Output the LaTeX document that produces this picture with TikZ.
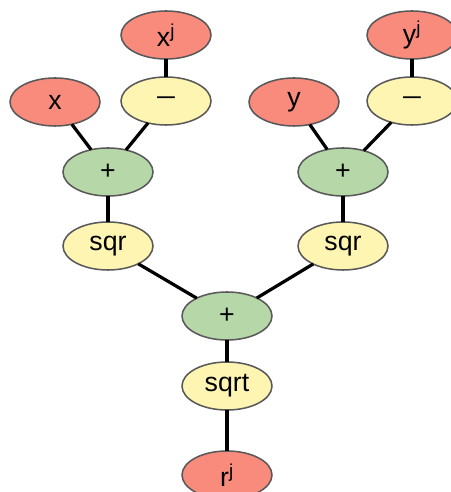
\documentclass[tikz,border=0pt]{standalone}
\usepackage{fontspec}
\setmainfont{Liberation Sans}
\usepackage[usenames,dvipsnames]{xcolor}
\usepackage{tikz}
\usetikzlibrary{arrows,shapes}
\usepackage{tkz-graph}

\definecolor{inred}{HTML}{F88B7B}
\definecolor{opyellow}{HTML}{FDF5B1}
\definecolor{opgreen}{HTML}{B6D7A8}
\definecolor{rimgray}{HTML}{595959}

\begin{document}
\begin{tikzpicture}
    \GraphInit[vstyle=Normal]
    \tikzset{VertexStyle/.style={shape=ellipse, draw=rimgray, line width=1.1pt,
        minimum width=2.25cm, minimum height=1.2cm, inner sep=0pt,
        font=\fontsize{19}{22}\selectfont, text=black}}
    \tikzset{EdgeStyle/.style={line width=2.3pt, color=black}}
    \useasboundingbox (0,0) rectangle (11.25,12.3);
    \Vertex[x=4.15,y=11.425,L={x\textsuperscript{j}},style={fill=inred}]{xj}
    \Vertex[x=10.3,y=11.425,L={y\textsuperscript{j}},style={fill=inred}]{yj}
    \Vertex[x=1.375,y=9.75,L={x},style={fill=inred}]{x}
    \Vertex[x=4.15,y=9.775,L={\scalebox{1.2}[1]{--}},style={fill=opyellow}]{minusx}
    \Vertex[x=7.35,y=9.75,L={y},style={fill=inred}]{y}
    \Vertex[x=10.3,y=9.775,L={\scalebox{1.2}[1]{--}},style={fill=opyellow}]{minusy}
    \Vertex[x=2.7,y=8.0,L={+},style={fill=opgreen}]{plusx}
    \Vertex[x=8.575,y=8.0,L={+},style={fill=opgreen}]{plusy}
    \Vertex[x=2.7,y=6.15,L={sqr},style={fill=opyellow}]{sqrx}
    \Vertex[x=8.575,y=6.15,L={sqr},style={fill=opyellow}]{sqry}
    \Vertex[x=5.675,y=4.4,L={+},style={fill=opgreen}]{plusr}
    \Vertex[x=5.675,y=2.65,L={sqrt},style={fill=opyellow}]{sqrt}
    \Vertex[x=5.675,y=0.425,L={r\textsuperscript{j}},style={fill=inred}]{rj}

    \Edge(xj)(minusx)
    \Edge(yj)(minusy)
    \Edge(x)(plusx)
    \Edge(minusx)(plusx)
    \Edge(y)(plusy)
    \Edge(minusy)(plusy)
    \Edge(plusx)(sqrx)
    \Edge(plusy)(sqry)
    \Edge(sqrx)(plusr)
    \Edge(sqry)(plusr)
    \Edge(plusr)(sqrt)
    \Edge(sqrt)(rj)
\end{tikzpicture}
\end{document}
